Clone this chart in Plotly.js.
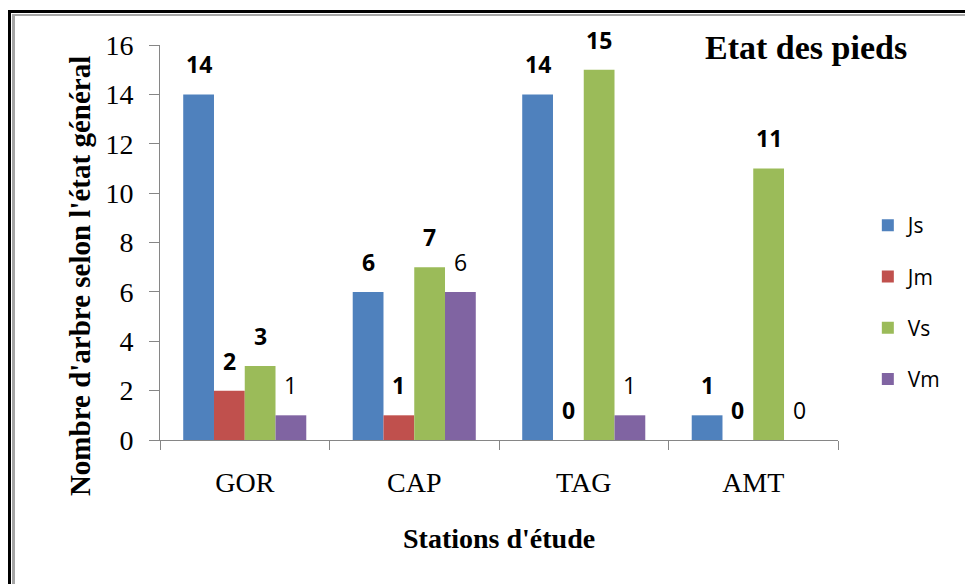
<!DOCTYPE html>
<html>
<head>
<meta charset="utf-8">
<script src="https://cdn.plot.ly/plotly-3.0.1.min.js"></script>
<style>
  html, body { margin: 0; padding: 0; background: #fff; overflow: hidden; }
  #wrap { position: relative; width: 965px; height: 584px; }
  #chart { position: absolute; left: 0; top: 0; width: 965px; height: 584px; }
  .edge-dark { position: absolute; left: 8px; top: 10px; width: 1200px; height: 1200px;
               border-left: 3px solid #000; border-top: 3px solid #000; pointer-events: none; }
  .edge-light { position: absolute; left: 12px; top: 14px; width: 1200px; height: 1200px;
                border-left: 3px solid #a6a6a6; border-top: 2px solid #a6a6a6; pointer-events: none; }
</style>
</head>
<body>
<div id="wrap">
  <div id="chart"></div>
  <div class="edge-dark"></div>
  <div class="edge-light"></div>
</div>
<script>
// Stations and tree counts per health state
const stations = ['GOR', 'CAP', 'TAG', 'AMT'];
const seriesNames = ['Js', 'Jm', 'Vs', 'Vm'];
const js = [14, 6, 14, 1];
const jm = [2, 1, 0, 0];
const vs = [3, 7, 15, 11];
const vm = [1, 6, 1, 0];
const colors = ['#4F81BD', '#C0504D', '#9BBB59', '#8064A2'];

const values = [js, jm, vs, vm];
const boldLabels = [true, true, true, false];

const bargap = 0.274;
const serif = 'Liberation Serif, Times New Roman, serif';
const sans = 'Open Sans, Liberation Sans, sans-serif';

const traces = values.map((v, j) => ({
  type: 'bar',
  name: seriesNames[j],
  x: stations,
  y: v,
  marker: { color: colors[j] },
  legendgroup: seriesNames[j],
  hoverinfo: 'skip'
}));

// Value labels above each bar, placed at the grouped-bar centres
const groupWidth = 1 - bargap;
const barWidth = groupWidth / values.length;
const labels = [];
values.forEach((v, j) => {
  v.forEach((val, i) => {
    labels.push({
      xref: 'x', yref: 'y',
      x: i - groupWidth / 2 + barWidth * (j + 0.5),
      y: val,
      yshift: 30,
      yanchor: 'middle',
      showarrow: false,
      text: boldLabels[j] ? '<b>' + val + '</b>' : String(val),
      font: { family: sans, size: 23, color: '#000' }
    });
  });
});

const annotations = labels.concat([
  {
    xref: 'paper', yref: 'paper', x: 0.953, y: 0.994,
    xanchor: 'center', yanchor: 'middle', showarrow: false,
    text: '<b>Etat des pieds</b>',
    font: { family: serif, size: 34, color: '#000' }
  },
  {
    xref: 'paper', yref: 'paper', x: -0.118, y: 0.415,
    xanchor: 'center', yanchor: 'middle', showarrow: false, textangle: -90,
    text: "<b>Nombre d'arbre selon l'état général</b>",
    font: { family: serif, size: 29, color: '#000' }
  },
  {
    xref: 'paper', yref: 'paper', x: 0.5, y: -0.25,
    xanchor: 'center', yanchor: 'middle', showarrow: false,
    text: "<b>Stations d'étude</b>",
    font: { family: serif, size: 28, color: '#000' }
  }
]);

const layout = {
  width: 965,
  height: 584,
  margin: { l: 160, r: 127, t: 45, b: 144 },
  paper_bgcolor: '#fff',
  plot_bgcolor: '#fff',
  barmode: 'group',
  bargap: bargap,
  bargroupgap: 0,
  showlegend: true,
  legend: {
    x: 1.044, xanchor: 'left',
    y: 0.348, yanchor: 'middle',
    font: { family: sans, size: 21, color: '#000' },
    tracegroupgap: 21,
    itemclick: false
  },
  xaxis: {
    type: 'category',
    tickson: 'boundaries',
    ticks: 'outside',
    ticklen: 9,
    tickcolor: '#868686',
    showline: true,
    linecolor: '#868686',
    linewidth: 1,
    showgrid: false,
    zeroline: false,
    ticklabelstandoff: 17,
    tickfont: { family: serif, size: 28, color: '#000' }
  },
  yaxis: {
    range: [0, 16],
    dtick: 2,
    ticks: 'outside',
    ticklen: 10,
    tickcolor: '#868686',
    showline: true,
    linecolor: '#868686',
    linewidth: 1,
    showgrid: false,
    zeroline: false,
    ticklabelstandoff: 10,
    tickfont: { family: serif, size: 28, color: '#000' }
  },
  annotations: annotations
};

Plotly.newPlot('chart', traces, layout, { displayModeBar: false, staticPlot: true });
</script>
</body>
</html>
